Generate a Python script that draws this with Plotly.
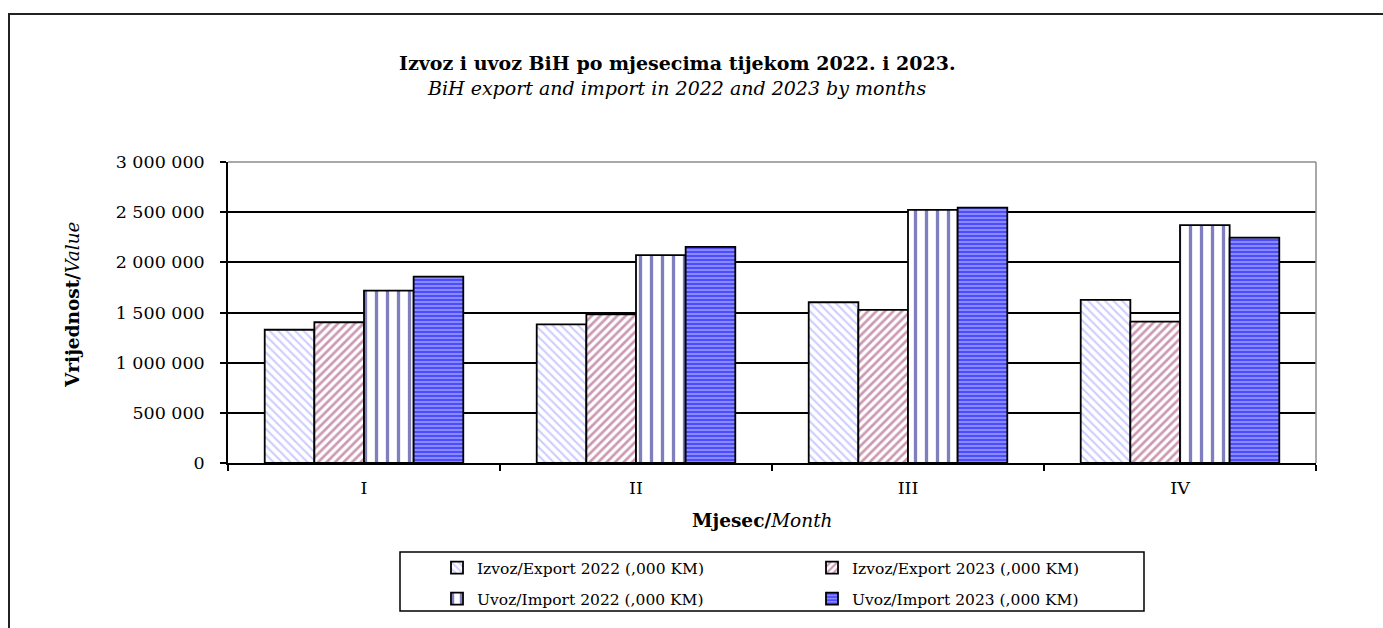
import plotly.graph_objects as go

months = ["I", "II", "III", "IV"]
export_2022 = [1328000, 1381000, 1602000, 1625000]
export_2023 = [1403000, 1481000, 1526000, 1410000]
import_2022 = [1718000, 2072000, 2522000, 2370000]
import_2023 = [1857000, 2154000, 2545000, 2247000]

names = [
    "Izvoz/Export 2022 (,000 KM)",
    "Izvoz/Export 2023 (,000 KM)",
    "Uvoz/Import 2022 (,000 KM)",
    "Uvoz/Import 2023 (,000 KM)",
]
y_ticks = [0, 500000, 1000000, 1500000, 2000000, 2500000, 3000000]

FONT = "DejaVu Serif"
W_PX, H_PX = 1383, 628
L, R, T, B = 228, 1316, 162, 463


def px(xp):
    return (xp - L) / (R - L)


def py(yp):
    return (B - yp) / (B - T)


fig = go.Figure()
patterns = [
    dict(shape="\\", fgcolor="#9999FF", bgcolor="white", size=6, solidity=0.35),
    dict(shape="/", fgcolor="#993366", bgcolor="white", size=6, solidity=0.45),
    dict(shape="|", fgcolor="#000080", bgcolor="white", size=11, solidity=0.3),
    dict(shape="-", fgcolor="#0000FF", bgcolor="#9A9AFF", size=4, solidity=0.6),
]
series = [export_2022, export_2023, import_2022, import_2023]
legends = ["legend", "legend", "legend2", "legend2"]
for name, vals, pat, lg in zip(names, series, patterns, legends):
    fig.add_trace(go.Bar(
        x=months, y=vals, name=name, legend=lg,
        marker=dict(color="white", pattern=pat, line=dict(color="black", width=1.8)),
    ))

fig.update_layout(
    width=W_PX, height=H_PX,
    margin=dict(l=L, r=W_PX - R, t=T, b=H_PX - B, pad=0),
    paper_bgcolor="white", plot_bgcolor="white",
    barmode="group", bargap=0.27, bargroupgap=0,
    separators=", ",
    font=dict(family=FONT, color="black", size=16),
    xaxis=dict(
        type="category", showline=True, linecolor="black", linewidth=1.5,
        ticks="outside", tickson="boundaries", ticklen=6, tickwidth=1.5, tickcolor="black",
        tickfont=dict(size=17.5), ticklabelstandoff=8, showgrid=False,
    ),
    yaxis=dict(
        range=[0, 3000000], tickvals=y_ticks, tickformat=",d",
        showline=True, linecolor="black", linewidth=1.5,
        ticks="outside", ticklen=6, tickwidth=1.5, tickcolor="black",
        tickfont=dict(size=17.5), ticklabelstandoff=12,
        showgrid=True, gridcolor="black", gridwidth=1.5, zeroline=False,
    ),
    legend=dict(
        orientation="h", x=px(437), xanchor="left", y=py(568), yanchor="middle",
        entrywidth=330, entrywidthmode="pixels", bgcolor="rgba(0,0,0,0)", borderwidth=0,
        font=dict(size=15.5), traceorder="normal",
    ),
    legend2=dict(
        orientation="h", x=px(437), xanchor="left", y=py(599), yanchor="middle",
        entrywidth=330, entrywidthmode="pixels", bgcolor="rgba(0,0,0,0)", borderwidth=0,
        font=dict(size=15.5), traceorder="normal",
    ),
    annotations=[
        dict(text="<b>Izvoz i uvoz BiH po mjesecima tijekom 2022. i 2023.</b>",
             x=px(677), y=py(63), xref="paper", yref="paper", showarrow=False,
             xanchor="center", yanchor="middle", font=dict(size=19)),
        dict(text="<i>BiH export and import in 2022 and 2023 by months</i>",
             x=px(677), y=py(88), xref="paper", yref="paper", showarrow=False,
             xanchor="center", yanchor="middle", font=dict(size=19)),
        dict(text="<b>Vrijednost/</b><i>Value</i>",
             x=px(72), y=py(305), xref="paper", yref="paper", showarrow=False,
             xanchor="center", yanchor="middle", textangle=-90, font=dict(size=18.5)),
        dict(text="<b>Mjesec/</b><i>Month</i>",
             x=px(762), y=py(520), xref="paper", yref="paper", showarrow=False,
             xanchor="center", yanchor="middle", font=dict(size=18.5)),
    ],
    shapes=[
        # outer chart frame
        dict(type="rect", xref="paper", yref="paper",
             x0=px(9), y0=py(14), x1=px(W_PX + 20), y1=py(H_PX + 20),
             line=dict(color="#222222", width=2), fillcolor="rgba(0,0,0,0)", layer="above"),
        # plot area top/right border (gray)
        dict(type="line", xref="paper", yref="paper", x0=0, y0=1, x1=1, y1=1,
             line=dict(color="#8C8C8C", width=1.5)),
        dict(type="line", xref="paper", yref="paper", x0=1, y0=0, x1=1, y1=1,
             line=dict(color="#8C8C8C", width=1.5)),
        # legend box
        dict(type="rect", xref="paper", yref="paper",
             x0=px(400), y0=py(552), x1=px(1144), y1=py(611),
             line=dict(color="black", width=1.5), fillcolor="rgba(0,0,0,0)", layer="below"),
    ],
)

fig.write_html("out.html", config={"displayModeBar": False},
               post_script="document.body.style.margin='0';")
